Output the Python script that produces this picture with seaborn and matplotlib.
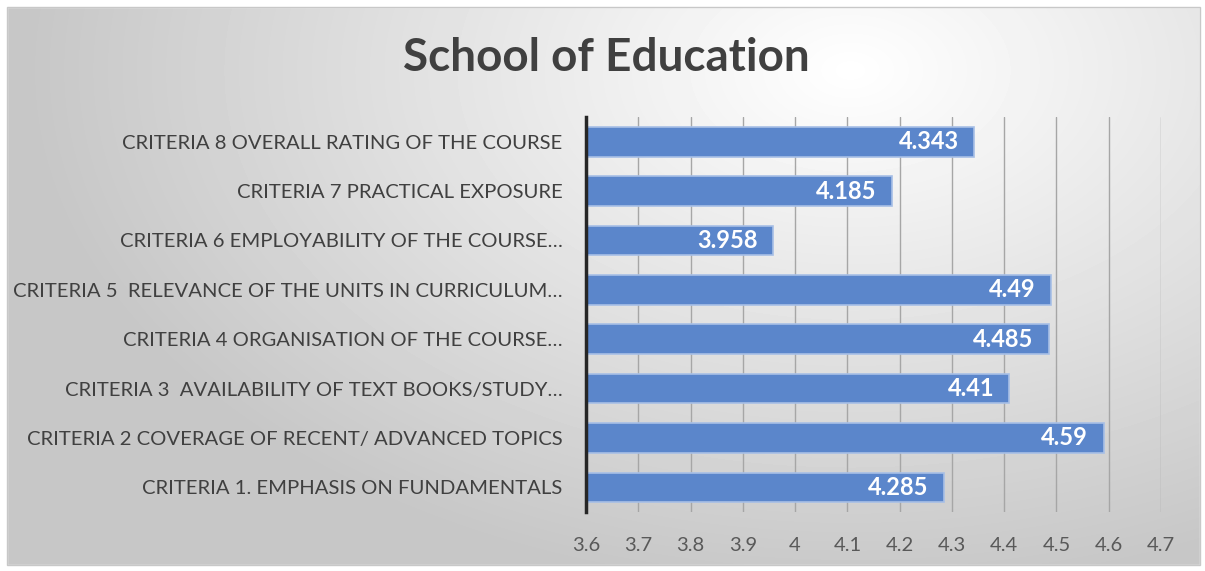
import numpy as np
import pandas as pd
import seaborn as sns
import matplotlib.pyplot as plt
from matplotlib.patches import Rectangle

# Data (top to bottom as shown in the chart)
criteria = [
    'CRITERIA 8 OVERALL RATING OF THE COURSE',
    'CRITERIA 7 PRACTICAL EXPOSURE',
    'CRITERIA 6 EMPLOYABILITY OF THE COURSE\u2026',
    'CRITERIA 5  RELEVANCE OF THE UNITS IN CURRICULUM\u2026',
    'CRITERIA 4 ORGANISATION OF THE COURSE\u2026',
    'CRITERIA 3  AVAILABILITY OF TEXT BOOKS/STUDY\u2026',
    'CRITERIA 2 COVERAGE OF RECENT/ ADVANCED TOPICS',
    'CRITERIA 1. EMPHASIS ON FUNDAMENTALS',
]
scores = [4.343, 4.185, 3.958, 4.49, 4.485, 4.41, 4.59, 4.285]
score_labels = ['4.343', '4.185', '3.958', '4.49', '4.485', '4.41', '4.59', '4.285']
x_ticks = [3.6, 3.7, 3.8, 3.9, 4.0, 4.1, 4.2, 4.3, 4.4, 4.5, 4.6, 4.7]
x_ticklabels = ['3.6', '3.7', '3.8', '3.9', '4', '4.1', '4.2', '4.3', '4.4', '4.5', '4.6', '4.7']

df = pd.DataFrame({'Criteria': criteria, 'Score': scores})

sns.set_theme(style='white')
plt.rcParams['font.family'] = ['Lato', 'DejaVu Sans']

W, H = 1205, 571
fig = plt.figure(figsize=(W / 100, H / 100), dpi=100)
fig.patch.set_facecolor('white')

# background with soft radial gradient
bg = fig.add_axes([0, 0, 1, 1], zorder=-1)
yy, xx = np.mgrid[0:H, 0:W]
d = np.sqrt(((xx - 850) / 820.0) ** 2 + ((yy - 70) / 520.0) ** 2)
shade = 1.0 - 0.22 * np.clip(d, 0, 1)
bg.imshow(shade, cmap='gray', vmin=0, vmax=1, extent=[0, W, H, 0], aspect='auto')
bg.add_patch(Rectangle((0, 0), W, 7, color='white'))
bg.add_patch(Rectangle((0, H - 6), W, 6, color='white'))
bg.add_patch(Rectangle((0, 0), 7, H, color='white'))
bg.add_patch(Rectangle((W - 5, 0), 5, H, color='white'))
bg.add_patch(Rectangle((7, 7), W - 12, H - 13, fill=False, edgecolor='#c8c8c8', linewidth=1))
bg.set_xlim(0, W)
bg.set_ylim(H, 0)
bg.axis('off')

ax = fig.add_axes([586 / W, 1 - 512 / H, (1161 - 586) / W, (512 - 117) / H])
ax.set_facecolor('none')

sns.barplot(data=df, x='Score', y='Criteria', orient='h', color='#5b86cb',
            edgecolor='#a7bfe6', linewidth=1.2, width=0.6, saturation=1, ax=ax, zorder=3)

ax.set_xlim(3.6, 4.7)
ax.set_xticks(x_ticks)
ax.set_xticklabels(x_ticklabels, fontsize=14.5, color='#595959')
ax.tick_params(axis='x', length=0, pad=18)
ax.tick_params(axis='y', length=0, pad=17, labelsize=14.6, labelcolor='#404040')
ax.set_xlabel('')
ax.set_ylabel('')
ax.xaxis.grid(True, color='#a6a6a6', linewidth=1, zorder=0)
ax.set_axisbelow(True)
for s in ['top', 'right', 'bottom']:
    ax.spines[s].set_visible(False)
ax.spines['left'].set_color('#262626')
ax.spines['left'].set_linewidth(2.5)
ax.spines['left'].set_zorder(5)

for i, (v, lab) in enumerate(zip(scores, score_labels)):
    ax.annotate(lab, xy=(v, i), xytext=(-11, 0), textcoords='offset points',
                ha='right', va='center', color='white', fontsize=17,
                fontweight='bold', zorder=6)

fig.text(606 / W, 1 - 58 / H, 'School of Education', ha='center', va='center',
         fontsize=33, fontweight='bold', color='#404040')

fig.savefig('out.png', dpi=100)
